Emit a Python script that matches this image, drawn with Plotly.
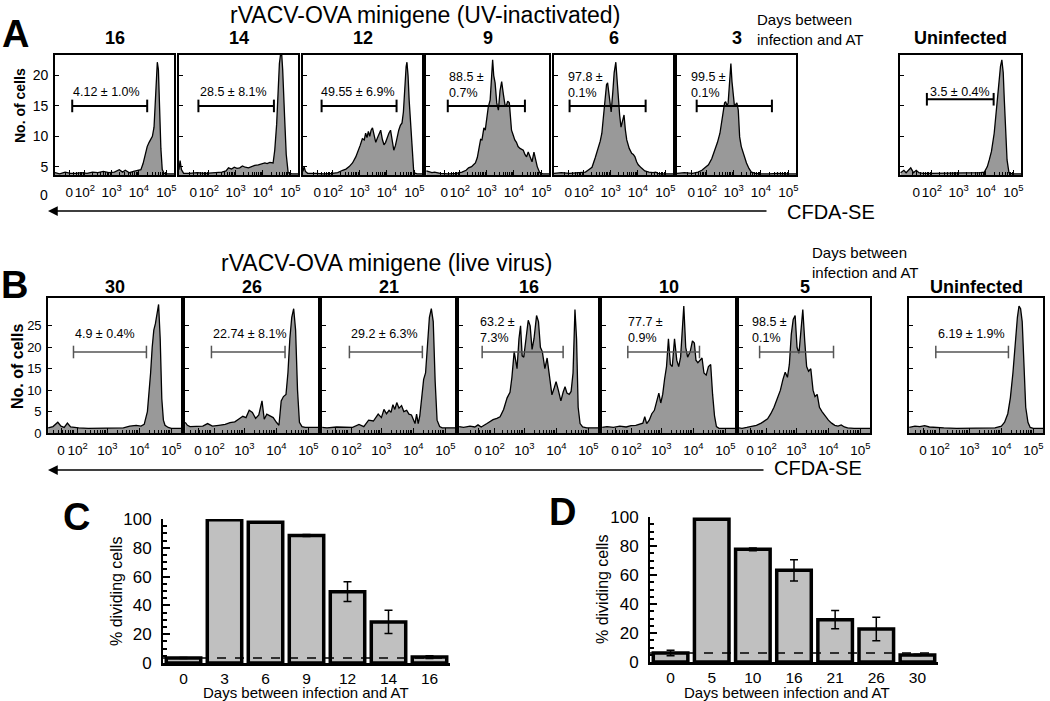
import math
import plotly.graph_objects as go

# ------------------------------------------------------------------
# DATA  (x = CFDA-SE display position: 10^n -> n ; y = No. of cells)
# ------------------------------------------------------------------
# Panel A: rVACV-OVA minigene (UV-inactivated)
a16 = [(0.93, 4.0), (1.1, 3.8), (1.3, 4.1), (1.5, 3.9), (1.7, 3.9), (1.9, 4.0), (2.1, 3.9), (2.3, 4.1),
       (2.5, 4.0), (2.7, 4.2), (2.9, 4.0), (3.1, 4.1), (3.28, 4.5), (3.4, 4.1), (3.5, 4.4), (3.65, 4.0),
       (3.8, 4.2), (3.95, 4.3), (4.07, 4.5), (4.15, 5.5), (4.22, 6.8), (4.3, 8.3), (4.37, 9.0), (4.43, 9.4),
       (4.49, 10.0), (4.55, 11.5), (4.6, 17.0), (4.64, 21.5), (4.67, 22.2), (4.71, 21.0), (4.75, 15.0),
       (4.8, 8.0), (4.85, 4.5), (4.92, 3.9), (5.05, 3.8), (5.28, 3.8)]
a14 = [(0.93, 4.5), (0.97, 6.0), (1.02, 4.5), (1.1, 3.9), (1.3, 3.9), (1.6, 4.0), (1.9, 3.9), (2.2, 4.0),
       (2.5, 4.1), (2.65, 4.3), (2.74, 4.8), (2.85, 4.6), (2.95, 4.9), (3.05, 4.7), (3.15, 4.8), (3.25, 5.1),
       (3.35, 4.9), (3.47, 4.8), (3.58, 5.0), (3.7, 5.2), (3.83, 5.3), (3.95, 5.5), (4.07, 5.6), (4.15, 5.5),
       (4.25, 5.7), (4.37, 5.6), (4.43, 7.7), (4.5, 12.0), (4.55, 17.1), (4.6, 22.0), (4.67, 24.5),
       (4.72, 21.0), (4.79, 13.2), (4.85, 7.0), (4.92, 4.0), (5.05, 3.8), (5.28, 3.8)]
a12 = [(0.93, 4.2), (0.97, 5.0), (1.02, 4.2), (1.1, 3.9), (1.4, 3.9), (1.7, 3.8), (2.0, 3.9), (2.2, 4.0),
       (2.38, 4.4), (2.5, 4.6), (2.62, 5.0), (2.74, 5.6), (2.86, 6.6), (2.95, 7.5), (3.02, 8.5), (3.1, 9.6),
       (3.17, 9.4), (3.22, 10.5), (3.27, 9.8), (3.32, 10.8), (3.37, 10.0), (3.42, 11.0), (3.47, 11.4),
       (3.53, 10.2), (3.59, 9.0), (3.65, 9.7), (3.71, 10.4), (3.77, 11.0), (3.83, 9.5), (3.89, 8.6),
       (3.95, 9.0), (4.01, 9.8), (4.07, 10.5), (4.13, 11.0), (4.19, 9.5), (4.25, 7.7), (4.31, 8.5),
       (4.37, 10.0), (4.43, 11.0), (4.49, 11.8), (4.55, 12.2), (4.6, 14.0), (4.65, 18.0), (4.7, 21.5),
       (4.73, 22.2), (4.77, 20.0), (4.81, 16.0), (4.85, 13.0), (4.91, 8.0), (4.98, 4.0), (5.1, 3.8), (5.28, 3.8)]
a9 = [(0.8, 4.3), (1.0, 4.0), (1.1, 4.1), (1.3, 3.9), (1.6, 3.8), (1.9, 3.9), (2.1, 4.1), (2.25, 4.4),
      (2.34, 4.8), (2.45, 5.0), (2.52, 5.3), (2.59, 5.6), (2.66, 6.5), (2.72, 7.8), (2.78, 9.5), (2.83, 9.4),
      (2.9, 11.4), (2.95, 11.0), (3.0, 12.8), (3.06, 14.8), (3.13, 16.0), (3.18, 20.0), (3.22, 22.6),
      (3.26, 20.0), (3.31, 18.8), (3.37, 15.5), (3.43, 14.3), (3.49, 17.5), (3.55, 19.0), (3.61, 17.0),
      (3.67, 15.2), (3.72, 15.0), (3.77, 15.8), (3.83, 15.5), (3.87, 13.0), (3.91, 11.0), (3.97, 10.2),
      (4.03, 9.4), (4.09, 9.0), (4.15, 8.3), (4.22, 8.0), (4.28, 7.9), (4.34, 7.7), (4.4, 7.0), (4.46, 6.6),
      (4.52, 7.4), (4.58, 6.8), (4.66, 5.8), (4.73, 7.4), (4.8, 6.0), (4.85, 5.0), (4.94, 4.0), (5.05, 3.8),
      (5.28, 3.8)]
a6 = [(0.93, 3.9), (1.2, 4.0), (1.5, 3.9), (1.8, 4.0), (2.0, 4.1), (2.08, 4.1), (2.2, 4.5), (2.32, 4.9),
      (2.44, 6.5), (2.56, 8.2), (2.62, 9.2), (2.68, 10.5), (2.74, 13.5), (2.8, 17.1), (2.85, 18.5),
      (2.89, 18.8), (2.93, 17.5), (2.96, 16.5), (3.02, 14.0), (3.08, 17.3), (3.13, 20.5), (3.19, 22.2),
      (3.24, 19.0), (3.28, 16.0), (3.33, 13.5), (3.38, 11.5), (3.44, 12.5), (3.49, 13.5), (3.54, 11.0),
      (3.59, 9.4), (3.68, 8.0), (3.77, 7.2), (3.83, 7.0), (3.89, 6.6), (3.95, 5.8), (4.01, 5.3), (4.12, 4.8),
      (4.25, 4.3), (4.4, 4.1), (4.55, 4.0), (4.65, 4.1), (4.73, 3.9), (4.85, 3.8), (5.0, 3.8), (5.28, 3.8)]
a3 = [(0.93, 3.9), (1.2, 4.0), (1.5, 3.9), (1.7, 4.1), (1.84, 4.4), (1.96, 4.8), (2.08, 5.3), (2.2, 6.3),
      (2.32, 7.7), (2.41, 9.0), (2.5, 10.5), (2.56, 12.5), (2.62, 14.3), (2.67, 15.5), (2.71, 15.7),
      (2.76, 15.0), (2.8, 15.5), (2.85, 19.0), (2.9, 22.0), (2.94, 19.0), (2.98, 16.5), (3.03, 15.0),
      (3.07, 15.2), (3.12, 15.5), (3.17, 14.3), (3.22, 9.9), (3.28, 8.3), (3.35, 7.2), (3.41, 6.2),
      (3.47, 5.6), (3.56, 4.7), (3.65, 4.1), (3.8, 3.9), (4.0, 3.8), (4.3, 3.8), (4.6, 3.9), (5.0, 3.8),
      (5.28, 3.8)]
a_un = [(0.88, 4.0), (1.0, 4.4), (1.08, 4.0), (1.15, 4.3), (1.25, 4.8), (1.35, 4.0), (1.45, 4.4),
        (1.55, 4.0), (1.7, 3.9), (2.0, 3.9), (2.5, 3.9), (3.0, 3.9), (3.5, 4.0), (3.8, 4.0), (3.94, 4.1),
        (4.05, 5.0), (4.12, 6.1), (4.2, 7.5), (4.3, 10.5), (4.38, 14.5), (4.47, 18.8), (4.53, 21.5),
        (4.58, 22.6), (4.63, 20.5), (4.67, 16.0), (4.72, 11.0), (4.77, 6.1), (4.84, 4.0), (4.95, 3.8),
        (5.28, 3.8)]

a_headers = ["16", "14", "12", "9", "6", "3", "Uninfected"]
a_series = [a16, a14, a12, a9, a6, a3, a_un]
a_gate_text = ["4.12 ± 1.0%", "28.5 ± 8.1%", "49.55 ± 6.9%", "88.5 ±<br>0.7%", "97.8 ±<br>0.1%",
               "99.5 ±<br>0.1%", "3.5 ± 0.4%"]
a_gate_lo = [1.56, 1.64, 1.61, 1.58, 1.5, 1.65, 1.84]
a_gate_hi = [4.3, 4.4, 4.35, 4.4, 4.28, 4.4, 4.28]
a_gate_y = [15, 15, 15, 15, 15, 15, 16.1]
a_label_x = [2.8, 2.91, 2.95, 1.56, 1.37, 1.37, 3.06]
a_label_y = [17.3, 17.3, 17.3, 18.4, 18.4, 18.4, 17.3]

# Panel B: rVACV-OVA minigene (live virus)
b30 = [(1.15, 1.2), (1.3, 1.5), (1.45, 2.5), (1.55, 1.6), (1.65, 1.3), (1.75, 2.3), (1.85, 1.4), (1.95, 1.3),
       (2.1, 1.2), (2.4, 1.1), (2.8, 1.1), (3.2, 1.1), (3.5, 1.2), (3.7, 1.6), (3.9, 1.8), (4.05, 1.6),
       (4.15, 2.0), (4.25, 5.0), (4.3, 9.0), (4.35, 14.0), (4.4, 20.0), (4.45, 24.0), (4.5, 25.5),
       (4.55, 28.0), (4.6, 30.0), (4.65, 22.0), (4.7, 8.0), (4.75, 3.0), (4.8, 1.8), (4.9, 1.3), (5.0, 1.1),
       (5.3, 1.1)]
b26 = [(1.15, 2.5), (1.22, 1.8), (1.3, 1.5), (1.5, 1.5), (1.7, 1.6), (1.85, 2.2), (2.0, 1.6), (2.2, 1.8),
       (2.4, 2.0), (2.55, 2.4), (2.7, 2.6), (2.85, 3.4), (2.95, 3.9), (3.05, 3.6), (3.15, 5.3), (3.25, 4.8),
       (3.35, 3.4), (3.45, 4.2), (3.55, 7.5), (3.62, 3.2), (3.7, 4.4), (3.8, 4.0), (3.9, 3.6), (4.0, 2.5),
       (4.08, 1.8), (4.15, 7.5), (4.22, 8.5), (4.3, 9.0), (4.36, 14.0), (4.42, 22.0), (4.48, 27.0),
       (4.54, 29.0), (4.6, 24.0), (4.66, 10.0), (4.72, 2.5), (4.8, 1.5), (4.9, 1.3), (5.3, 1.3)]
b21 = [(1.15, 1.3), (1.3, 1.2), (1.6, 1.4), (1.9, 1.3), (2.1, 1.3), (2.3, 2.0), (2.45, 1.5), (2.6, 3.0),
       (2.75, 2.8), (2.9, 4.4), (3.0, 3.6), (3.08, 5.5), (3.16, 4.5), (3.24, 5.3), (3.3, 4.8), (3.36, 6.6),
       (3.42, 5.5), (3.48, 7.1), (3.55, 5.8), (3.63, 6.4), (3.7, 5.0), (3.79, 5.3), (3.86, 4.4), (3.94, 4.2),
       (4.0, 3.0), (4.05, 2.2), (4.1, 4.4), (4.15, 2.2), (4.2, 4.0), (4.25, 8.0), (4.32, 12.5), (4.38, 14.0),
       (4.44, 20.0), (4.5, 27.0), (4.56, 29.0), (4.62, 26.0), (4.68, 12.0), (4.74, 3.0), (4.82, 1.5),
       (4.9, 1.2), (5.3, 1.2)]
b16 = [(0.96, 1.5), (1.1, 1.3), (1.3, 1.6), (1.45, 1.4), (1.55, 1.9), (1.65, 1.4), (1.83, 2.2), (2.02, 3.1),
       (2.14, 3.4), (2.24, 3.8), (2.35, 5.5), (2.46, 8.2), (2.55, 9.5), (2.61, 13.0), (2.68, 19.0),
       (2.73, 16.0), (2.77, 15.0), (2.83, 22.0), (2.88, 25.0), (2.93, 18.0), (2.98, 17.7), (3.05, 22.0),
       (3.12, 26.3), (3.18, 25.0), (3.24, 19.5), (3.3, 22.0), (3.38, 27.4), (3.44, 26.0), (3.5, 20.0),
       (3.56, 19.0), (3.64, 15.0), (3.71, 17.5), (3.78, 13.0), (3.86, 8.9), (3.93, 10.5), (3.99, 12.0),
       (4.06, 10.0), (4.14, 7.5), (4.21, 9.5), (4.27, 10.8), (4.33, 9.3), (4.4, 9.0), (4.46, 9.7),
       (4.52, 14.0), (4.58, 28.8), (4.63, 22.0), (4.68, 6.0), (4.74, 2.2), (4.82, 1.4), (4.95, 1.2),
       (5.3, 1.2)]
b10 = [(1.15, 1.3), (1.3, 1.5), (1.5, 1.3), (1.7, 1.6), (1.9, 1.4), (2.05, 1.7), (2.2, 1.8), (2.3, 2.0),
       (2.42, 2.3), (2.48, 3.8), (2.54, 2.2), (2.62, 3.0), (2.7, 4.5), (2.78, 5.3), (2.86, 8.0), (2.92, 9.3),
       (2.98, 7.0), (3.04, 9.0), (3.1, 12.6), (3.16, 15.5), (3.22, 22.0), (3.28, 16.0), (3.34, 15.5),
       (3.41, 22.0), (3.48, 17.0), (3.54, 15.5), (3.6, 17.7), (3.66, 26.0), (3.7, 29.6), (3.76, 20.0),
       (3.82, 17.7), (3.9, 19.0), (3.97, 21.5), (4.03, 21.0), (4.08, 17.0), (4.14, 16.4), (4.2, 17.0),
       (4.27, 17.5), (4.33, 14.0), (4.4, 13.5), (4.47, 15.5), (4.54, 16.0), (4.6, 9.0), (4.66, 4.0),
       (4.72, 1.5), (4.8, 1.1), (5.3, 1.1)]
b5 = [(1.2, 1.2), (1.3, 1.1), (1.45, 1.3), (1.6, 1.5), (1.75, 1.8), (1.9, 2.3), (2.0, 2.8), (2.1, 3.3),
      (2.2, 4.5), (2.3, 6.0), (2.4, 8.0), (2.5, 10.0), (2.58, 12.5), (2.65, 14.2), (2.72, 13.0), (2.78, 16.0),
      (2.84, 23.0), (2.9, 26.5), (2.96, 27.4), (3.02, 20.0), (3.08, 18.6), (3.14, 24.0), (3.2, 28.8),
      (3.26, 21.5), (3.32, 15.5), (3.38, 14.4), (3.45, 15.0), (3.52, 10.0), (3.58, 8.5), (3.65, 9.0),
      (3.72, 6.0), (3.8, 5.0), (3.9, 4.0), (4.0, 3.0), (4.1, 2.3), (4.2, 1.8), (4.3, 1.6), (4.4, 1.9),
      (4.5, 1.4), (4.6, 1.2), (4.8, 1.1), (5.3, 1.1)]
b_un = [(1.12, 1.3), (1.3, 1.6), (1.45, 1.5), (1.6, 1.7), (1.75, 1.4), (1.9, 1.3), (2.2, 1.2), (2.6, 1.1),
        (3.0, 1.1), (3.4, 1.1), (3.8, 1.2), (4.0, 1.6), (4.1, 2.5), (4.2, 4.5), (4.28, 8.2), (4.36, 14.0),
        (4.43, 21.5), (4.5, 27.0), (4.55, 29.6), (4.6, 29.0), (4.65, 26.0), (4.7, 15.5), (4.76, 6.0),
        (4.83, 2.5), (4.9, 1.3), (5.0, 1.1), (5.33, 1.1)]

b_headers = ["30", "26", "21", "16", "10", "5", "Uninfected"]
b_series = [b30, b26, b21, b16, b10, b5, b_un]
b_gate_text = ["4.9 ± 0.4%", "22.74 ± 8.1%", "29.2 ± 6.3%", "63.2 ±<br>7.3%", "77.7 ±<br>0.9%",
               "98.5 ±<br>0.1%", "6.19 ± 1.9%"]
b_gate_lo = [1.94, 1.97, 2.0, 1.68, 1.95, 1.85, 1.95]
b_gate_hi = [4.22, 4.27, 4.28, 4.21, 4.19, 4.16, 4.22]
b_gate_y = [18.9, 18.9, 18.9, 18.9, 18.9, 18.9, 18.9]
b_label_x = [2.92, 3.17, 3.1, 1.55, 1.89, 1.55, 3.05]
b_label_y = [23.0, 23.0, 23.0, 24.1, 24.1, 24.1, 23.0]

hist_xtick_text = ["0", "10<sup>2</sup>", "10<sup>3</sup>", "10<sup>4</sup>", "10<sup>5</sup>"]
a_yticks = [5, 10, 15, 20]
b_yticks = [0, 5, 10, 15, 20, 25]

# Panels C and D: % dividing cells
c_days = ["0", "3", "6", "9", "12", "14", "16"]
c_pct = [3.5, 99.5, 97.8, 88.5, 49.55, 28.5, 4.12]
c_err = [0.4, 0.1, 0.1, 0.7, 6.9, 8.1, 1.0]
c_baseline = 3.5
d_days = ["0", "5", "10", "16", "21", "26", "30"]
d_pct = [6.19, 98.5, 77.7, 63.2, 29.2, 22.74, 4.9]
d_err = [1.9, 0.1, 0.9, 7.3, 6.3, 8.1, 0.4]
d_baseline = 6.19

# ------------------------------------------------------------------
# LAYOUT / STYLE
# ------------------------------------------------------------------
FONT = "Liberation Sans, Arial, Helvetica, sans-serif"
W, H = 1050, 701


def fx(p):
    return p / W


def fy(p):
    return 1 - p / H


fig = go.Figure()
layout = dict(width=W, height=H, margin=dict(l=0, r=0, t=0, b=0, pad=0, autoexpand=False),
              paper_bgcolor="white", plot_bgcolor="rgba(0,0,0,0)", showlegend=False,
              font=dict(family=FONT, color="black"))
annotations = []
shapes = []

minor_x = [math.log10(k * 10 ** n) for n in range(1, 5) for k in range(2, 10)]

rows = [
    dict(series=a_series, headers=a_headers, text=a_gate_text, lo=a_gate_lo, hi=a_gate_hi, gy=a_gate_y,
         lx=a_label_x, ly=a_label_y,
         boxes=[(55, 174), (179, 298), (303, 422), (426, 549), (554, 673), (677, 796), (900, 1021)],
         top=55, bottom=175, right=5.28, ppu=27.36, yr=[3.62, 23.39], yticks=a_yticks, ytickfont=14,
         xtickvals=[1.45, 2.02, 3.0, 4.0, 5.0], gate_color="black", gate_w=2.0, header_y=38),
    dict(series=b_series, headers=b_headers, text=b_gate_text, lo=b_gate_lo, hi=b_gate_hi, gy=b_gate_y,
         lx=b_label_x, ly=b_label_y,
         boxes=[(48, 181), (185, 318), (322, 455), (459, 598), (602, 735), (739, 870), (909, 1043)],
         top=298, bottom=433, right=5.3, ppu=32.0, yr=[0, 31.5], yticks=b_yticks, ytickfont=13,
         xtickvals=[1.55, 2.07, 3.0, 4.0, 5.0], gate_color="#555555", gate_w=1.5, header_y=287),
]

idx = 0
for row in rows:
    for i, data in enumerate(row["series"]):
        idx += 1
        s = "" if idx == 1 else str(idx)
        l, r = row["boxes"][i]
        xr = [row["right"] - (r - l) / row["ppu"], row["right"]]
        xs = [p[0] for p in data]
        ys = [p[1] for p in data]
        fig.add_trace(go.Scatter(x=xs, y=ys, mode="lines", line=dict(color="black", width=1.3),
                                 fill="tozeroy", fillcolor="#999999", xaxis="x" + s, yaxis="y" + s,
                                 hoverinfo="skip"))
        gc = row["gate_color"]
        fig.add_trace(go.Scatter(x=[row["lo"][i], row["hi"][i]], y=[row["gy"][i], row["gy"][i]],
                                 mode="lines+markers", line=dict(color=gc, width=row["gate_w"]),
                                 marker=dict(symbol="line-ns", size=9, line=dict(color=gc, width=row["gate_w"])),
                                 xaxis="x" + s, yaxis="y" + s, hoverinfo="skip"))
        layout["xaxis" + s] = dict(domain=[fx(l), fx(r)], range=xr, anchor="y" + s, showline=True, mirror=True,
                                   linecolor="black", linewidth=1.6, ticks="inside", ticklen=5,
                                   tickcolor="black", tickvals=row["xtickvals"], ticktext=hist_xtick_text,
                                   tickangle=0, tickfont=dict(size=13.5), ticklabelstandoff=4,
                                   minor=dict(ticks="inside", ticklen=3, tickvals=minor_x, tickcolor="black"),
                                   showgrid=False, zeroline=False, fixedrange=True, automargin=False)
        layout["yaxis" + s] = dict(domain=[fy(row["bottom"]), fy(row["top"])], range=row["yr"], anchor="x" + s,
                                   showline=True, mirror=True, linecolor="black", linewidth=1.6,
                                   ticks="inside", ticklen=4, tickcolor="black", tickvals=row["yticks"],
                                   showticklabels=(i == 0), tickfont=dict(size=row["ytickfont"]),
                                   ticklabelstandoff=2, showgrid=False, zeroline=False, fixedrange=True,
                                   automargin=False)
        two_line = "<br>" in row["text"][i]
        annotations.append(dict(text=row["text"][i], x=row["lx"][i], y=row["ly"][i], xref="x" + s,
                                yref="y" + s, showarrow=False, xanchor="left" if two_line else "center",
                                yanchor="middle", align="left", font=dict(size=12.5)))
        annotations.append(dict(text="<b>" + row["headers"][i] + "</b>", x=fx((l + r) / 2), y=fy(row["header_y"]),
                                xref="paper", yref="paper", showarrow=False, xanchor="center",
                                yanchor="middle", font=dict(size=18)))

# bar charts
bar_specs = [
    (c_days, c_pct, c_err, c_baseline, "15", (163, 450), (519, 663)),
    (d_days, d_pct, d_err, d_baseline, "16", (650, 938), (517, 662)),
]
for days, pct, err, base, s, (xl, xr_), (yt, yb) in bar_specs:
    fig.add_trace(go.Bar(x=days, y=pct, width=0.84,
                         marker=dict(color="#c0c0c0", line=dict(color="black", width=3.5)),
                         error_y=dict(type="data", array=err, color="black", thickness=1.5, width=4),
                         xaxis="x" + s, yaxis="y" + s, hoverinfo="skip"))
    layout["xaxis" + s] = dict(domain=[fx(xl), fx(xr_)], type="category", range=[-0.5, 6.5], anchor="y" + s,
                               showline=True, linecolor="black", linewidth=2.5, ticks="", ticklen=0,
                               tickfont=dict(size=15.5), tickangle=0, ticklabelstandoff=0, showgrid=False,
                               zeroline=False, fixedrange=True, automargin=False)
    layout["yaxis" + s] = dict(domain=[fy(yb), fy(yt)], range=[0, 100], anchor="x" + s, showline=True,
                               linecolor="black", linewidth=2, ticks="inside", ticklen=7, tickwidth=2,
                               tickcolor="black", tickvals=[0, 20, 40, 60, 80, 100], tickfont=dict(size=17),
                               ticklabelstandoff=6,
                               minor=dict(ticks="inside", ticklen=4, tickcolor="black",
                                          tickvals=list(range(5, 100, 5))),
                               showgrid=False, zeroline=False, fixedrange=True, automargin=False)
    shapes.append(dict(type="line", xref="x" + s + " domain", yref="y" + s, x0=0, x1=1, y0=base, y1=base,
                       line=dict(color="black", width=1.5, dash="dash"), layer="above"))


def txt(t, x, y, size, bold=False, xanchor="center", angle=0, align="center"):
    annotations.append(dict(text=("<b>%s</b>" % t) if bold else t, x=fx(x), y=fy(y), xref="paper",
                            yref="paper", showarrow=False, xanchor=xanchor, yanchor="middle",
                            textangle=angle, align=align, font=dict(size=size)))


# titles and labels
txt("rVACV-OVA minigene (UV-inactivated)", 425, 15, 23)
txt("rVACV-OVA minigene (live virus)", 386, 263, 23)
txt("A", 15, 34, 38, bold=True)
txt("B", 14, 285, 38, bold=True)
txt("C", 76, 517, 38, bold=True)
txt("D", 562, 512, 38, bold=True)
txt("Days between<br>infection and AT", 755, 30, 15, xanchor="left", align="left")
txt("Days between<br>infection and AT", 810, 262, 15, xanchor="left", align="left")
txt("No. of cells", 20, 106, 14, bold=True, angle=-90)
txt("No. of cells", 17, 367, 16, bold=True, angle=-90)
txt("0", 44, 195, 14)
txt("CFDA-SE", 831, 212, 20)
txt("CFDA-SE", 818, 468, 20)
txt("% dividing cells", 116, 592, 16, angle=-90)
txt("% dividing cells", 602, 590, 16, angle=-90)
txt("Days between infection and AT", 306, 692, 15)
txt("Days between infection and AT", 787, 692, 15)

# arrows (CFDA-SE direction)
for ay_px, x_tail in [(211, 768), (470, 765)]:
    annotations.append(dict(x=fx(48), y=fy(ay_px), xref="paper", yref="paper", ax=x_tail - 48, ay=0,
                            text="", showarrow=True, arrowhead=2, arrowsize=1.3, arrowwidth=1.5,
                            arrowcolor="black", standoff=0))

layout["annotations"] = annotations
layout["shapes"] = shapes
fig.update_layout(**layout)
fig.write_html("out.html", config={"displayModeBar": False},
               post_script="document.body.style.margin='0px';")
